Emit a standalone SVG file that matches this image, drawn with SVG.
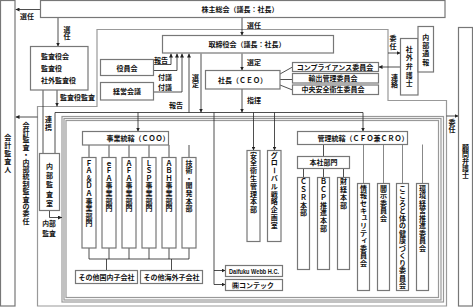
<svg xmlns="http://www.w3.org/2000/svg" width="473" height="307" viewBox="0 0 473 307">
<style>
text{font-family:"Noto Sans CJK JP","Noto Sans",sans-serif;font-size:7px;font-weight:700;fill:#111}
.c{text-anchor:middle}
.box{fill:#fff;stroke:#777;stroke-width:1.2}
.frame{fill:none;stroke:#999;stroke-width:1.2}
.ln{fill:none;stroke:#222;stroke-width:0.8}
.gl{fill:none;stroke:#888;stroke-width:1}
.arr{marker-end:url(#ah)}
.en{font-family:"Liberation Sans",Arial,sans-serif}
</style>
<defs>
<marker id="ah" viewBox="0 0 6 6" refX="6" refY="3" markerWidth="4" markerHeight="4" markerUnits="userSpaceOnUse" orient="auto"><path d="M0,0 L6,3 L0,6 z" fill="#222"/></marker>
</defs>
<rect width="473" height="307" fill="#fff"/>
<g id="frames">
<path class="frame" d="M97,29.5 H388 V100.5 H446.5 V306 H37.5 V106.5 H97 Z"/>
<rect class="frame" x="62" y="116.5" width="381.5" height="185.5"/>
<rect class="frame" x="64" y="118.5" width="377" height="181.5"/>
<rect class="frame" x="66" y="120.5" width="372.5" height="177"/>
</g>
<g id="connectors">
<path class="ln arr" d="M40,9.5 H15.5"/>
<text class="c" x="27" y="19">選任</text>
<path class="ln arr" d="M58,17.5 V46.5"/>
<text class="c" x="67 67" y="31.6 38.6">選任</text>
<path class="ln arr" d="M242,17.5 V35.5"/>
<text x="247" y="28">選任</text>
<path class="ln arr" d="M57,90 V106.5"/>
<text x="60" y="99.5">監査役監査</text>
<path class="ln" d="M43,90 V153.5"/>
<text class="c" x="48.5 48.5" y="121.6 129.6">連携</text>
<path class="ln arr" d="M37.5,117 H15.5"/>
<text class="c" x="26 26 26 26 26 26 26 26 26 26 26 26 26 26" y="127.6 135 142.4 149.8 157.2 164.6 172 179.4 186.8 194.2 201.6 209 216.4 223.8">会計監査・内部統制監査の委任</text>
<path class="ln arr" d="M154,64.5 H171 V53.5"/>
<text class="c" x="161" y="62.5">報告</text>
<path class="ln arr" d="M154,70.5 H177 V53.5"/>
<text class="c" x="165" y="80">付議</text>
<path class="ln arr" d="M154,92 H182 V53.5"/>
<text class="c" x="165" y="89.5">付議</text>
<path class="ln arr" d="M189,112.5 V53.5"/>
<text class="c" x="176" y="108">報告</text>
<path class="ln arr" d="M201,53.5 V112.5"/>
<text class="c" x="195.5 195.5" y="79.6 86.6">選定</text>
<path class="ln arr" d="M242,53.5 V70.5"/>
<text x="247" y="64.5">選定</text>
<path class="ln arr" d="M242,89 V112.5"/>
<text x="247" y="102.5">指揮</text>
<path class="ln" d="M280,74 L292.5,67 M280,79.5 H292.5 M280,85 L292.5,90"/>
<path class="ln arr" d="M388,53 H400.5"/>
<text class="c" x="393 393" y="40.6 49.1">委任</text>
<path class="ln arr" d="M400.5,67 H378.5"/>
<text class="c" x="394.5 394.5" y="79.6 86.6">連絡</text>
<path class="ln arr" d="M446.5,116 H458.5"/>
<text class="c" x="452 452" y="124.6 132.1">委任</text>
<path class="ln" d="M55,153.5 V112.5 H363"/>
<path class="ln arr" d="M138,112.5 V131.5"/>
<path class="ln arr" d="M363,112.5 V131.5"/>
<path class="ln arr" d="M253.5,112.5 V150.5"/>
<path class="ln arr" d="M274.5,112.5 V150.5"/>
<path class="ln" d="M214,112.5 V284.5"/>
<path class="ln arr" d="M214,270.5 H225.5"/>
<path class="ln arr" d="M214,284.5 H225.5"/>
<path class="ln arr" d="M49.5,210.5 V217.5 H62"/>
<text class="c" style="font-size:6.8px"><tspan x="49" y="226">内部</tspan><tspan x="49" y="235.6">監査</tspan></text>
<path class="ln" d="M89,145 V157.5 M109,145 V157.5 M129,145 V157.5 M149,145 V157.5 M169,145 V157.5 M189,145 V157.5"/>
<path class="ln" d="M89,248 V259 M109,248 V259 M129,248 V259 M149,248 V259 M169,248 V259 M189,248 V259 M89,259 H189 M106.5,259 V270.5 M171.5,259 V270.5"/>
<path class="ln" d="M323.5,144.5 V156.5 M303.5,168.5 V177.5 M323.5,168.5 V177.5 M343.5,168.5 V177.5 M303.5,168.5 H343.5"/>
<path class="gl" d="M363.5,131.5 V183.5 M383.5,144.5 V183.5 M402.5,144.5 V183.5 M422.5,144.5 V183.5"/>
</g>
<g id="kaikei"><rect class="box" x="0.5" y="0.5" width="14.5" height="305.5"/><text class="c" x="7.75 7.75 7.75 7.75 7.75" y="139.6 147.8 156 164.2 172.4">会計監査人</text></g>
<g id="kabunushi"><rect class="box" x="40.5" y="0.5" width="404.5" height="17"/><text class="c" x="240" y="11.5">株主総会（議長：社長）</text></g>
<g id="komon"><rect class="box" x="458.5" y="27.5" width="14" height="278.5"/><text class="c" x="465.5 465.5 465.5 465.5 465.5" y="149.6 156.8 164 171.2 178.4">顧問弁護士</text></g>
<g id="kansayakukai"><rect class="box" x="30.5" y="46.5" width="57.5" height="43.5"/><text x="41" y="58.5">監査役会</text><text x="41" y="71">監査役</text><text x="41" y="82.5">社外監査役</text></g>
<g id="torishimariyakukai"><rect class="box" x="162.5" y="35.5" width="171" height="17.5"/><text class="c" x="247" y="47">取締役会（議長：社長）</text></g>
<g id="yakuinkai"><rect class="box" x="100.5" y="59.5" width="53" height="16"/><text class="c" x="127" y="70.5">役員会</text></g>
<g id="keieikaigi"><rect class="box" x="100.5" y="82.5" width="53" height="17.5"/><text class="c" x="127" y="93.5">経営会議</text></g>
<g id="shacho"><rect class="box" x="205.5" y="70.5" width="74.5" height="18.5"/><text class="c" x="242.5" y="82.5">社長（ＣＥＯ）</text></g>
<g id="compliance"><rect class="box" x="292.5" y="62.5" width="86" height="9"/><text class="c" x="335" y="69.6">コンプライアンス委員会</text></g>
<g id="yushutsu"><rect class="box" x="292.5" y="73.5" width="86" height="9.5"/><text class="c" x="333" y="80.8">輸出管理委員会</text></g>
<g id="chuoanzen"><rect class="box" x="292.5" y="85" width="86" height="9.5"/><text class="c" x="333" y="92.3">中央安全衛生委員会</text></g>
<g id="shagaibengoshi"><rect class="box" x="400.5" y="38.5" width="17.5" height="56.5"/><text class="c" x="409.25 409.25 409.25 409.25 409.25" y="51.6 60.3 69 77.7 86.4">社外弁護士</text></g>
<g id="naibutsuho"><rect class="box" x="418" y="26.5" width="15.5" height="45.5"/><text class="c" x="425.75 425.75 425.75 425.75" y="39.6 47.9 56.2 64.5">内部通報</text></g>
<g id="naibukansashitsu"><rect class="box" x="39.5" y="153.5" width="20" height="57"/><text class="c" x="49.5 49.5 49.5 49.5 49.5" y="168.6 177.9 187.2 196.5 205.8">内部監査室</text></g>
<g id="coo"><rect class="box" x="82.5" y="131.5" width="86" height="13.5"/><text class="c" x="138" y="141">事業統轄（ＣＯＯ）</text></g>
<g id="fada"><rect class="box" x="82" y="157.5" width="14" height="90.5"/><text class="c" x="89 89 89 89 89 89 89 89 89" y="165.6 173.2 180.8 188.4 196 203.6 211.2 218.8 226.4">ＦＡ＆ＤＡ事業部門</text></g>
<g id="efa"><rect class="box" x="102" y="157.5" width="14" height="90.5"/><text class="c" x="109 109 109 109 109 109 109" y="165.6 173.2 180.8 188.4 196 203.6 211.2">ｅＦＡ事業部門</text></g>
<g id="afa"><rect class="box" x="122" y="157.5" width="14" height="90.5"/><text class="c" x="129 129 129 129 129 129 129" y="165.6 173.2 180.8 188.4 196 203.6 211.2">ＡＦＡ事業部門</text></g>
<g id="lsp"><rect class="box" x="142" y="157.5" width="14" height="90.5"/><text class="c" x="149 149 149 149 149 149 149" y="165.6 173.2 180.8 188.4 196 203.6 211.2">ＬＳＰ事業部門</text></g>
<g id="abh"><rect class="box" x="162" y="157.5" width="14" height="90.5"/><text class="c" x="169 169 169 169 169 169 169" y="165.6 173.2 180.8 188.4 196 203.6 211.2">ＡＢＨ事業部門</text></g>
<g id="gijutsu"><rect class="box" x="182" y="157.5" width="14" height="90.5"/><text class="c" x="189 189 189 189 189 189 189" y="165.6 173.2 180.8 188.4 196 203.6 211.2">技術・開発本部</text></g>
<g id="kokunai"><rect class="box" x="75.5" y="270.5" width="62" height="13"/><text class="c" x="106.5" y="279.8">その他国内子会社</text></g>
<g id="kaigai"><rect class="box" x="140.5" y="270.5" width="62" height="13"/><text class="c" x="171.5" y="279.8">その他海外子会社</text></g>
<g id="webb"><rect class="box" x="225.5" y="265.5" width="57" height="11"/><text class="en" x="229" y="273.5" textLength="50" lengthAdjust="spacingAndGlyphs">Daifuku Webb H.C.</text></g>
<g id="contec"><rect class="box" x="225.5" y="279.5" width="57" height="11"/><text x="232" y="287.5">㈱コンテック</text></g>
<g id="anzeneisei"><rect class="box" x="247" y="150.5" width="13" height="91"/><text class="c" x="253.5 253.5 253.5 253.5 253.5 253.5 253.5 253.5" y="157.6 165.4 173.2 181 188.8 196.6 204.4 212.2">安全衛生管理本部</text></g>
<g id="global"><rect class="box" x="267.5" y="150.5" width="13.5" height="91"/><text class="c" x="274.25 274.25 275.1 274.25 274.25 274.25 274.25 274.25 274.25 274.25" y="157.6 165.4 167.1 181 188.8 196.6 204.4 212.2 220 227.8" rotate="0 0 90 0 0 0 0 0 0 0">グローバル戦略企画室</text></g>
<g id="cfo"><rect class="box" x="297.5" y="131.5" width="110" height="13"/><text class="c" x="363" y="140.5">管理統轄（ＣＦＯ兼ＣＲＯ）</text></g>
<g id="honsha"><rect class="box" x="297.5" y="156.5" width="52" height="12"/><text class="c" x="323.5" y="165">本社部門</text></g>
<g id="csr"><rect class="box" x="297.5" y="177.5" width="12" height="92"/><text class="c" x="303.5 303.5 303.5 303.5 303.5" y="184.1 191.9 199.7 207.5 215.3">ＣＳＲ本部</text></g>
<g id="bcp"><rect class="box" x="317.5" y="177.5" width="12" height="92"/><text class="c" x="323.5 323.5 323.5 323.5 323.5 323.5 323.5" y="184.1 191.9 199.7 207.5 215.3 223.1 230.9">ＢＣＰ推進本部</text></g>
<g id="zaikei"><rect class="box" x="337.5" y="177.5" width="12" height="92"/><text class="c" x="343.5 343.5 343.5 343.5" y="184.1 191.9 199.7 207.5">財経本部</text></g>
<g id="joho"><rect class="box" x="357.5" y="183.5" width="12" height="107"/><text class="c" x="363.5 363.5 363.5 363.5 364.5 363.5 363.5 364.5 363.5 363.5 363.5" y="190.6 198.1 205.6 213.1 219.1 228.1 235.6 241.6 250.6 258.1 265.6">情報セキュリティ委員会</text></g>
<g id="kaiji"><rect class="box" x="377.5" y="183.5" width="12" height="107"/><text class="c" x="383.5 383.5 383.5 383.5 383.5" y="190.6 198.1 205.6 213.1 220.6">開示委員会</text></g>
<g id="kokoro"><rect class="box" x="396.5" y="183.5" width="12" height="107"/><text class="c" x="402.5 402.5 402.5 402.5 402.5 402.5 402.5 402.5 402.5 402.5 402.5 402.5 402.5 402.5" y="190.6 198.1 205.6 213.1 220.6 228.1 235.6 243.1 250.6 258.1 265.6 273.1 280.6 288.1">こころと体の健康づくり委員会</text></g>
<g id="kankyo"><rect class="box" x="416.5" y="183.5" width="12" height="107"/><text class="c" x="422.5 422.5 422.5 422.5 422.5 422.5 422.5 422.5 422.5" y="190.6 198.1 205.6 213.1 220.6 228.1 235.6 243.1 250.6">環境経営推進委員会</text></g>
</svg>
